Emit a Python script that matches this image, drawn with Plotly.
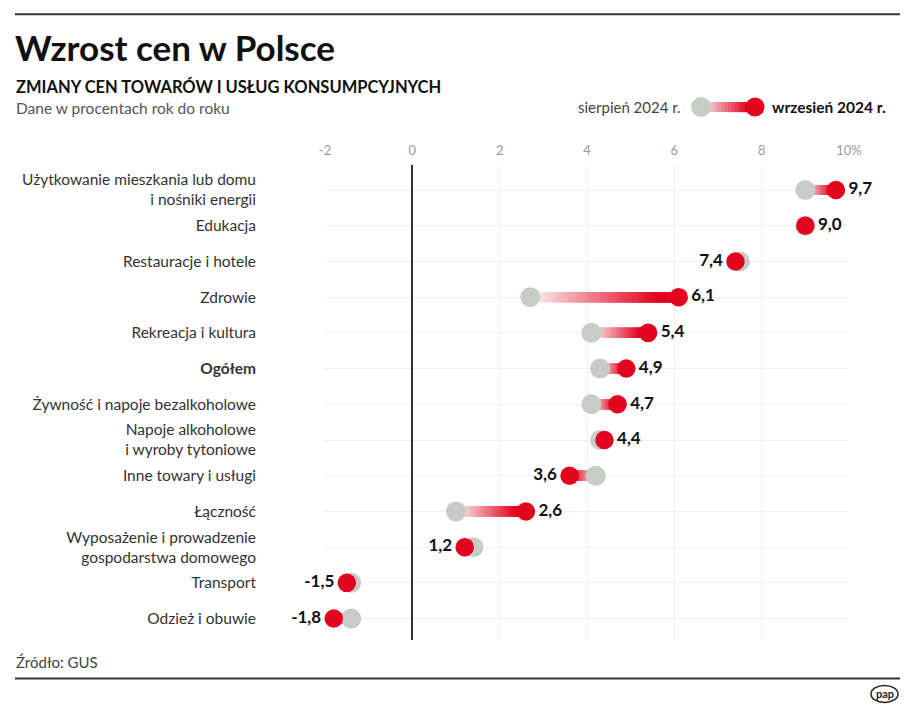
import plotly.graph_objects as go

categories = [
    "Użytkowanie mieszkania lub domu<br>i nośniki energii",
    "Edukacja",
    "Restauracje i hotele",
    "Zdrowie",
    "Rekreacja i kultura",
    "<b>Ogółem</b>",
    "Żywność i napoje bezalkoholowe",
    "Napoje alkoholowe<br>i wyroby tytoniowe",
    "Inne towary i usługi",
    "Łączność",
    "Wyposażenie i prowadzenie<br>gospodarstwa domowego",
    "Transport",
    "Odzież i obuwie",
]
aug_2024 = [9.0, 9.0, 7.5, 2.7, 4.1, 4.3, 4.1, 4.3, 4.2, 1.0, 1.4, -1.4, -1.4]
sep_2024 = [9.7, 9.0, 7.4, 6.1, 5.4, 4.9, 4.7, 4.4, 3.6, 2.6, 1.2, -1.5, -1.8]
x_ticks = [-2, 0, 2, 4, 6, 8, 10]
x_tick_labels = ["-2", "0", "2", "4", "6", "8", "10%"]

OFF = 8  # page body margin
W, H = 915 - 2 * OFF, 714 - 2 * OFF
L, R, T, B = 325, 849, 165, 640.5  # target page pixels of the plot area
FONT = "Lato"
RED = "#e2031f"
GREY = "#c7ccc7"
PALE = "#faf3f3"

def px(x):
    return (x - L) / (R - L)

def py(y):
    return (B - y) / (B - T)

def mix(c1, c2, t):
    a = [int(c1[i:i + 2], 16) for i in (1, 3, 5)]
    b = [int(c2[i:i + 2], 16) for i in (1, 3, 5)]
    return "rgb(%d,%d,%d)" % tuple(round(a[k] + (b[k] - a[k]) * t) for k in range(3))

def grad_t(k, n):
    t = (k + 0.5) / n
    return min(1.0, t * 1.18)

rows = list(range(len(categories)))
fig = go.Figure()

# gradient connectors (each step covers from its start to the September end)
N = 32
for k in range(N):
    xs, ys = [], []
    for i in rows:
        a, s = aug_2024[i], sep_2024[i]
        if a == s:
            continue
        xs += [a + (s - a) * k / N, s, None]
        ys += [i, i, None]
    fig.add_trace(go.Scatter(x=xs, y=ys, mode="lines",
                             line=dict(color=mix(PALE, RED, grad_t(k, N)), width=10),
                             hoverinfo="skip", showlegend=False, cliponaxis=False))

fig.add_trace(go.Scatter(x=aug_2024, y=rows, mode="markers",
                         marker=dict(color=GREY, size=20, line=dict(width=0)),
                         showlegend=False, cliponaxis=False))

positions = ["middle left" if a > s else "middle right" for a, s in zip(aug_2024, sep_2024)]
labels = [f"{v:.1f}".replace(".", ",") for v in sep_2024]
fig.add_trace(go.Scatter(x=sep_2024, y=rows, mode="markers+text",
                         marker=dict(color=RED, size=18.5, line=dict(width=0)),
                         text=["<b>%s</b>" % t for t in labels], textposition=positions,
                         textfont=dict(family=FONT, size=17, color="#111"),
                         showlegend=False, cliponaxis=False))

shapes = [
    dict(type="line", xref="paper", yref="paper", x0=px(15), x1=px(900), y0=py(14), y1=py(14),
         line=dict(color="#333", width=2)),
    dict(type="line", xref="paper", yref="paper", x0=px(15), x1=px(900), y0=py(679), y1=py(679),
         line=dict(color="#333", width=2)),
    dict(type="circle", xref="paper", yref="paper", x0=px(871), x1=px(898), y0=py(703), y1=py(686),
         line=dict(color="#222", width=1.5), fillcolor="white"),
]
# legend gradient
LN = 16
lx0, lx1 = 701, 755
for k in range(LN):
    a = lx0 + (lx1 - lx0) * k / LN
    shapes.append(dict(type="rect", xref="paper", yref="paper", x0=px(a), x1=px(lx1),
                       y0=py(112), y1=py(102), line=dict(width=0),
                       fillcolor=mix(PALE, RED, grad_t(k, LN))))
for cx, col, r in ((lx0, GREY, 10), (lx1, RED, 9.5)):
    shapes.append(dict(type="circle", xref="paper", yref="paper", x0=px(cx - r), x1=px(cx + r),
                       y0=py(107 + r), y1=py(107 - r), line=dict(width=0), fillcolor=col))

annotations = [
    dict(text="<b>Wzrost cen w Polsce</b>", x=px(13), y=py(47), font=dict(family=FONT, size=35, color="#111"),
         xanchor="left"),
    dict(text="<b>ZMIANY CEN TOWARÓW I USŁUG KONSUMPCYJNYCH</b>", x=px(14), y=py(87),
         font=dict(family=FONT, size=16.5, color="#111"), xanchor="left"),
    dict(text="Dane w procentach rok do roku", x=px(14), y=py(108),
         font=dict(family=FONT, size=15.5, color="#555"), xanchor="left"),
    dict(text="sierpień 2024 r.", x=px(683), y=py(107), font=dict(family=FONT, size=15, color="#444"),
         xanchor="right"),
    dict(text="<b>wrzesień 2024 r.</b>", x=px(770), y=py(107), font=dict(family=FONT, size=15.5, color="#111"),
         xanchor="left"),
    dict(text="Źródło: GUS", x=px(14), y=py(663), font=dict(family=FONT, size=15, color="#444"),
         xanchor="left"),
    dict(text="<b>pap</b>", x=px(884.5), y=py(694), font=dict(family=FONT, size=11, color="#222"),
         xanchor="center"),
]
for a in annotations:
    a.update(xref="paper", yref="paper", showarrow=False, yanchor="middle")

fig.update_layout(
    width=W, height=H,
    margin=dict(l=L - OFF, r=W - (R - OFF), t=T - OFF, b=H - (B - OFF)),
    paper_bgcolor="white", plot_bgcolor="white",
    shapes=shapes, annotations=annotations,
    xaxis=dict(range=[-2, 10], side="top", tickvals=x_ticks, ticktext=x_tick_labels,
               tickfont=dict(family=FONT, size=13, color="#9a9a9a"), showgrid=True,
               gridcolor="#efefef", gridwidth=1, zeroline=True, zerolinecolor="#333",
               zerolinewidth=2, showline=False, ticks="", ticklabelstandoff=6, fixedrange=True),
    yaxis=dict(range=[12.6, -0.7], tickvals=rows, ticktext=categories,
               tickfont=dict(family=FONT, size=15.5, color="#333"), showgrid=True,
               gridcolor="#efefef", gridwidth=1, zeroline=False, showline=False, ticks="",
               ticklabelstandoff=68, fixedrange=True),
    font=dict(family=FONT),
)

fig.write_html("out.html")
